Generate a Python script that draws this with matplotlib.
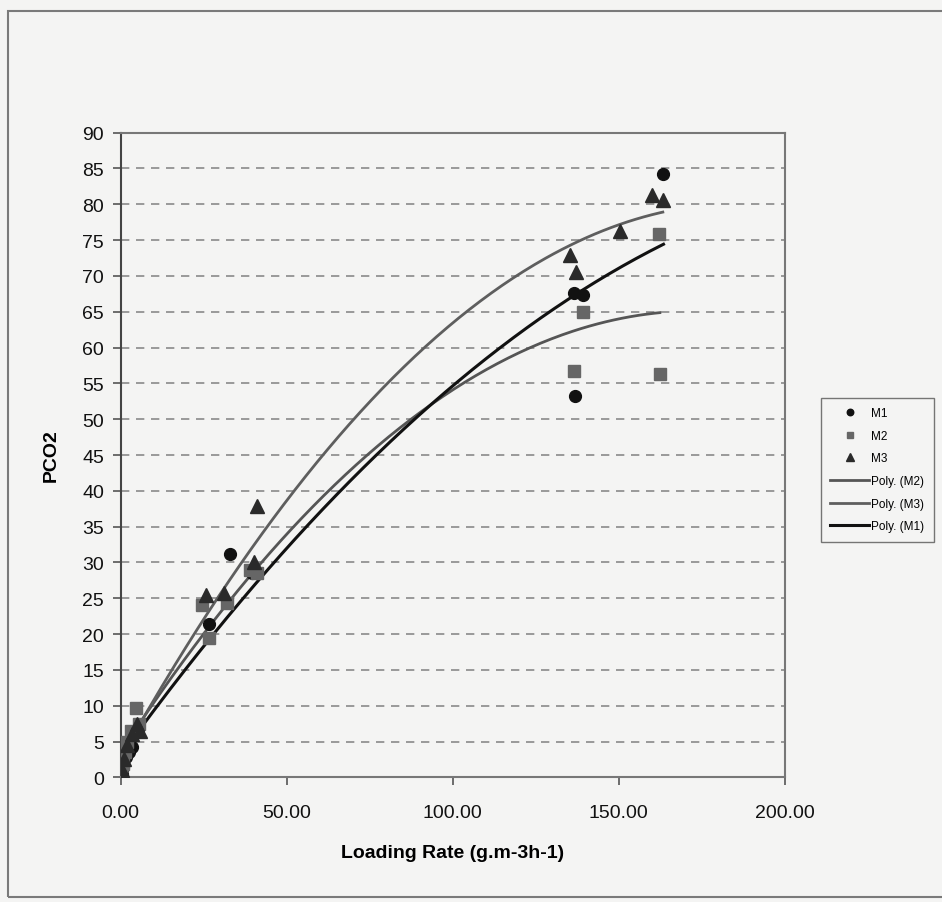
import numpy as np
import matplotlib
matplotlib.use("Agg")
import matplotlib.pyplot as plt
from matplotlib.patches import Rectangle

plt.rcParams['font.family'] = ['Liberation Sans', 'DejaVu Sans']

# Measured PCO2 against loading rate for the three reactors
m1_x = [0.3, 0.8, 1.5, 2.5, 3.5, 5.0, 26.6, 32.9, 39.5, 136.7, 139.2, 137.0, 163.5]
m1_y = [0.5, 1.5, 2.8, 3.5, 4.2, 6.5, 21.4, 31.2, 28.5, 67.6, 67.3, 53.2, 84.2]

m2_x = [0.2, 0.6, 1.2, 2.0, 3.0, 4.5, 5.5, 24.6, 26.6, 32.1, 39.0, 41.0, 136.7, 139.2, 162.2, 162.4]
m2_y = [0.8, 1.8, 3.5, 5.0, 6.5, 9.7, 7.5, 24.0, 19.5, 24.4, 29.0, 28.5, 56.7, 64.9, 75.8, 56.3]

m3_x = [0.4, 1.0, 2.0, 3.5, 5.0, 6.0, 25.6, 31.1, 40.2, 41.0, 135.3, 137.1, 150.4, 160.0, 163.3]
m3_y = [1.0, 2.5, 4.5, 6.0, 7.5, 6.5, 25.4, 25.8, 30.0, 37.9, 72.9, 70.6, 76.3, 81.3, 80.6]

x_ticks = [0, 50, 100, 150, 200]
y_ticks = list(range(0, 95, 5))

fig = plt.figure(figsize=(9.42, 9.03), dpi=100)
bg = '#f4f4f3'
fig.patch.set_facecolor(bg)

# outer chart frame
fig.patches.append(Rectangle((0.009, 0.006), 1.2, 0.981, transform=fig.transFigure,
                             fill=False, edgecolor='#7a7a7a', linewidth=1.5))

ax = fig.add_axes([0.128, 0.138, 0.705, 0.714])
ax.set_facecolor(bg)

for yv in y_ticks[1:-1]:
    ax.axhline(yv, color='#8a8a8a', linestyle=(0, (5, 4)), linewidth=1.2, zorder=1)

ax.plot(m1_x, m1_y, 'o', color='#111111', markersize=8.5, linestyle='none', zorder=3, label='M1')
ax.plot(m2_x, m2_y, 's', color='#666666', markersize=8, linestyle='none', zorder=3, label='M2')
ax.plot(m3_x, m3_y, '^', color='#2a2a2a', markersize=9.5, linestyle='none', zorder=3, label='M3')

# second-order polynomial trend lines
def trend(xs, ys):
    c = np.polyfit(xs, ys, 2)
    xx = np.linspace(0, max(xs), 200)
    return xx, np.polyval(c, xx)

xx, yy = trend(m2_x, m2_y)
ax.plot(xx, yy, color='#555555', linewidth=2.0, zorder=2, label='Poly. (M2)')
xx, yy = trend(m3_x, m3_y)
ax.plot(xx, yy, color='#5e5e5e', linewidth=2.0, zorder=2, label='Poly. (M3)')
xx, yy = trend(m1_x, m1_y)
ax.plot(xx, yy, color='#111111', linewidth=2.2, zorder=2, label='Poly. (M1)')

ax.set_xlim(0, 200)
ax.set_ylim(0, 90)
ax.set_xticks(x_ticks)
ax.set_xticklabels([f'{v:.2f}' for v in x_ticks])
ax.set_yticks(y_ticks)
ax.tick_params(axis='both', direction='out', length=6, width=1.2, color='#555555',
               labelsize=14, labelcolor='#111111')
ax.tick_params(axis='x', pad=13)
ax.tick_params(axis='y', pad=6)
for s in ax.spines.values():
    s.set_color('#777777')
    s.set_linewidth(1.5)
ax.spines['left'].set_color('#444444')

ax.set_xlabel('Loading Rate (g.m-3h-1)', fontsize=14, fontweight='bold', labelpad=17)
ax.set_ylabel('PCO2', fontsize=14, fontweight='bold', labelpad=16)

leg = fig.legend(loc='upper left', bbox_to_anchor=(0.865, 0.565), frameon=True,
                 fontsize=8.5, handlelength=3.3, handletextpad=0.2, labelspacing=0.9,
                 borderpad=0.8, markerscale=0.55, fancybox=False)
leg.get_frame().set_edgecolor('#555555')
leg.get_frame().set_facecolor(bg)
leg.get_frame().set_linewidth(1.0)

fig.savefig('out.png', dpi=100, facecolor=bg)
